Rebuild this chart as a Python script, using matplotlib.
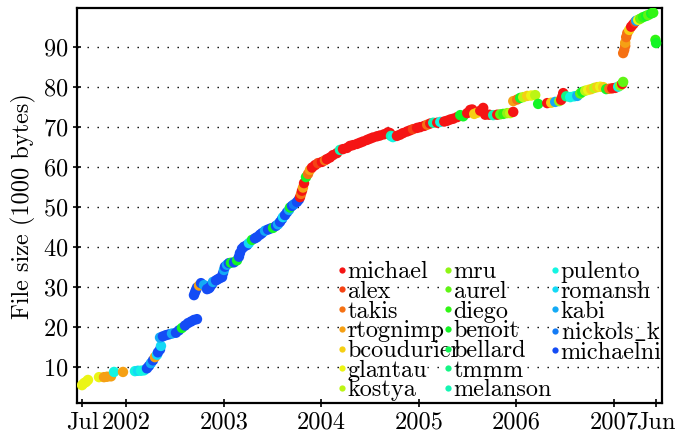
import datetime as dt
import numpy as np
import matplotlib
matplotlib.use("Agg")
import matplotlib.pyplot as plt
from matplotlib.colors import hsv_to_rgb
from matplotlib.lines import Line2D
from matplotlib.legend import Legend

plt.rcParams['font.family'] = ['cmr10', 'DejaVu Serif']
plt.rcParams['mathtext.fontset'] = 'cm'
plt.rcParams['axes.formatter.use_mathtext'] = True

# committers, in colour order
authors = ['michael', 'alex', 'takis', 'rtognimp', 'bcoudurier', 'glantau', 'kostya',
           'mru', 'aurel', 'diego', 'benoit', 'bellard', 'tmmm', 'melanson',
           'pulento', 'romansh', 'kabi', 'nickols_k', 'michaelni']

# commit time (decimal year), file size (1000 bytes), committer index
years = [2001.546, 2001.566, 2001.587, 2001.607, 2001.720, 2001.771, 2001.802, 2001.843,
         2001.874, 2001.966, 2002.089, 2002.120, 2002.151, 2002.182, 2002.212, 2002.233,
         2002.253, 2002.274, 2002.294, 2002.315, 2002.325, 2002.346, 2002.356, 2002.346,
         2002.376, 2002.407, 2002.438, 2002.469, 2002.510, 2002.540, 2002.571, 2002.602,
         2002.633, 2002.664, 2002.694, 2002.725,
         2002.694, 2002.705, 2002.715, 2002.725, 2002.746, 2002.766, 2002.797, 2002.828,
         2002.848, 2002.858, 2002.879, 2002.889, 2002.920, 2002.941, 2002.961, 2002.982,
         2002.992, 2003.002, 2003.012, 2003.033, 2003.053, 2003.074, 2003.105, 2003.136,
         2003.156, 2003.166, 2003.187, 2003.207, 2003.238, 2003.258, 2003.289, 2003.320,
         2003.341, 2003.371, 2003.392, 2003.423, 2003.454, 2003.484, 2003.505, 2003.535,
         2003.556, 2003.577, 2003.597, 2003.607, 2003.628, 2003.648, 2003.669, 2003.679,
         2003.700, 2003.720, 2003.751, 2003.771,
         2003.782, 2003.792, 2003.802, 2003.812, 2003.823, 2003.843, 2003.864, 2003.884,
         2003.905, 2003.936, 2003.966, 2004.007, 2004.038, 2004.058, 2004.089, 2004.120,
         2004.161, 2004.192, 2004.223, 2004.264, 2004.294, 2004.325, 2004.366, 2004.397,
         2004.428, 2004.469, 2004.499, 2004.530, 2004.571, 2004.602, 2004.643, 2004.684,
         2004.705, 2004.715, 2004.735, 2004.776, 2004.807, 2004.838, 2004.879, 2004.910,
         2004.941, 2004.982, 2005.013, 2005.054, 2005.084, 2005.115, 2005.146, 2005.187,
         2005.218, 2005.259, 2005.289, 2005.320, 2005.351, 2005.392, 2005.423, 2005.453,
         2005.494, 2005.525, 2005.546, 2005.566, 2005.597, 2005.628, 2005.658, 2005.679,
         2005.720, 2005.761, 2005.802, 2005.833, 2005.864, 2005.905, 2005.935, 2005.966,
         2005.966, 2006.007, 2006.038, 2006.069, 2006.110, 2006.151, 2006.192, 2006.222,
         2006.315, 2006.356, 2006.397, 2006.438, 2006.458, 2006.469, 2006.479, 2006.510,
         2006.551, 2006.592, 2006.623, 2006.653, 2006.674, 2006.705, 2006.735, 2006.766,
         2006.797, 2006.828, 2006.858, 2006.889, 2006.920, 2006.951, 2006.982, 2007.012,
         2007.043, 2007.064, 2007.084, 2007.094,
         2007.094, 2007.105, 2007.115, 2007.115, 2007.125, 2007.136, 2007.156, 2007.176,
         2007.197, 2007.217, 2007.228, 2007.248, 2007.269, 2007.299, 2007.330, 2007.351,
         2007.381, 2007.402, 2007.425, 2007.432]
size_k = [5.4, 5.9, 6.2, 6.7, 7.4, 7.4, 7.5, 7.6,
          8.7, 8.7, 8.9, 9.0, 9.0, 9.1, 9.6, 10.2,
          10.9, 11.6, 12.4, 13.0, 13.6, 14.3, 15.2, 17.3,
          17.6, 17.9, 18.1, 18.3, 18.5, 19.1, 19.7, 20.3,
          20.9, 21.3, 21.7, 21.9,
          27.9, 28.6, 29.2, 29.8, 30.3, 30.9, 30.4, 29.4,
          29.6, 29.9, 30.6, 31.2, 31.6, 31.9, 32.2, 32.4,
          33.4, 34.2, 35.0, 35.5, 35.9, 36.0, 36.1, 36.6,
          37.5, 38.4, 39.5, 40.0, 40.4, 40.9, 41.7, 42.1,
          42.4, 43.0, 43.4, 44.0, 44.3, 44.6, 44.7, 45.2,
          45.6, 46.2, 46.9, 47.4, 47.9, 48.6, 49.2, 49.8,
          50.2, 50.6, 51.2, 51.8,
          52.4, 53.2, 54.0, 54.8, 55.9, 57.4, 58.2, 59.2,
          59.8, 60.4, 60.9, 61.2, 61.6, 61.9, 62.3, 62.9,
          63.4, 64.2, 64.4, 64.7, 65.2, 65.4, 65.7, 66.0,
          66.3, 66.7, 67.0, 67.3, 67.6, 67.8, 68.1, 68.6,
          68.4, 67.7, 67.4, 67.7, 68.0, 68.4, 68.8, 69.1,
          69.4, 69.7, 69.9, 70.2, 70.5, 70.8, 71.0, 71.0,
          71.2, 71.3, 71.5, 71.8, 72.0, 72.4, 72.9, 72.6,
          73.4, 74.2, 74.3, 73.2, 73.5, 74.0, 74.7, 73.0,
          73.0, 72.9, 73.0, 73.1, 73.2, 73.4, 73.4, 73.7,
          76.4, 76.8, 77.2, 77.4, 77.7, 77.8, 77.9, 75.7,
          75.9, 76.0, 76.2, 76.4, 76.7, 77.5, 78.4, 77.6,
          77.4, 77.6, 77.7, 78.3, 78.7, 79.0, 79.2, 79.4,
          79.7, 79.9, 80.0, 79.9, 79.4, 79.5, 79.6, 79.7,
          80.0, 80.3, 80.7, 81.2,
          88.4, 89.2, 90.2, 91.0, 92.4, 93.4, 94.2, 95.0,
          95.6, 96.2, 96.5, 96.7, 97.0, 97.4, 97.7, 97.9,
          98.3, 98.5, 91.7, 90.9]
who = [5, 5, 5, 5, 5, 3, 3, 3,
       14, 3, 14, 15, 14, 14, 18, 18,
       16, 18, 3, 15, 18, 18, 15, 16,
       18, 18, 18, 16, 18, 18, 10, 18,
       18, 18, 18, 18,
       18, 18, 18, 18, 3, 18, 16, 18,
       18, 18, 18, 16, 18, 18, 18, 18,
       18, 16, 18, 16, 18, 10, 18, 10,
       18, 18, 18, 18, 18, 15, 10, 18,
       18, 18, 18, 16, 18, 18, 10, 18,
       16, 18, 18, 15, 18, 18, 16, 10,
       18, 17, 18, 18,
       0, 2, 0, 3, 0, 10, 2, 3,
       0, 0, 1, 0, 2, 0, 0, 0,
       0, 13, 0, 0, 0, 0, 0, 0,
       0, 0, 0, 0, 0, 0, 0, 0,
       0, 13, 14, 0, 0, 0, 0, 0,
       1, 0, 0, 0, 2, 0, 13, 0,
       14, 0, 0, 0, 0, 0, 10, 10,
       0, 0, 0, 4, 4, 0, 0, 0,
       0, 13, 0, 8, 9, 7, 6, 0,
       3, 2, 10, 6, 4, 5, 6, 10,
       0, 4, 16, 7, 0, 0, 0, 12,
       14, 14, 16, 8, 10, 6, 5, 4,
       6, 4, 5, 4, 10, 2, 0, 0,
       14, 7, 0, 8,
       2, 2, 2, 3, 2, 2, 4, 0,
       0, 1, 16, 5, 8, 9, 10, 8,
       10, 9, 9, 10]


def to_date(y):
    year = int(np.floor(y))
    start = dt.datetime(year, 1, 1)
    return start + dt.timedelta(days=(y - year) * 365.25)


dates = [to_date(y) for y in years]
palette = [hsv_to_rgb((i * 12.5 / 360.0, 0.92, 0.96)) for i in range(len(authors))]
point_colors = [palette[i] for i in who]

fig = plt.figure(figsize=(6.75, 4.37), dpi=100)
ax = fig.add_axes([0.114, 0.077, 0.867, 0.904])

ax.scatter(dates, size_k, s=56, c=point_colors, linewidths=0, zorder=3)

ax.set_ylim(0.85, 99.6)
ax.set_xlim(to_date(2001.494), to_date(2007.494))
ax.set_yticks(np.arange(10, 100, 10))
ax.yaxis.grid(True, color='black', linestyle=(0, (1, 6.2)), linewidth=1.0)

xt = [min(dates)] + [dt.datetime(y, 1, 1) for y in range(2002, 2008)] + [max(dates)]
xl = [min(dates).strftime('%b')] + [str(y) for y in range(2002, 2008)] + [max(dates).strftime('%b')]
ax.set_xticks(xt)
ax.set_xticklabels(xl)

ax.tick_params(direction='inout', length=6, width=1.2, labelsize=17.5)
ax.tick_params(axis='x', pad=3)
for sp in ax.spines.values():
    sp.set_linewidth(1.6)

ax.set_ylabel('File size (1000 bytes)', fontsize=17.5, labelpad=5)

# legend, three columns of fixed spacing
labels = [a.replace('_', r'$\_$') for a in authors]
columns = [(0, 7), (7, 14), (14, 19)]
anchors = [(0.446, 0.36), (0.627, 0.36), (0.810, 0.36)]
for (lo, hi), anc in zip(columns, anchors):
    handles = [Line2D([], [], linestyle='none', marker='o', markersize=4.5,
                      markerfacecolor=palette[k], markeredgewidth=0)
               for k in range(lo, hi)]
    leg = Legend(ax, handles, labels[lo:hi], loc='upper left', bbox_to_anchor=anc,
                 frameon=False, fontsize=17.5, handlelength=0.3,
                 handletextpad=0.1, labelspacing=-0.1, borderpad=0,
                 borderaxespad=0)
    ax.add_artist(leg)

fig.savefig('out.png', dpi=100)
